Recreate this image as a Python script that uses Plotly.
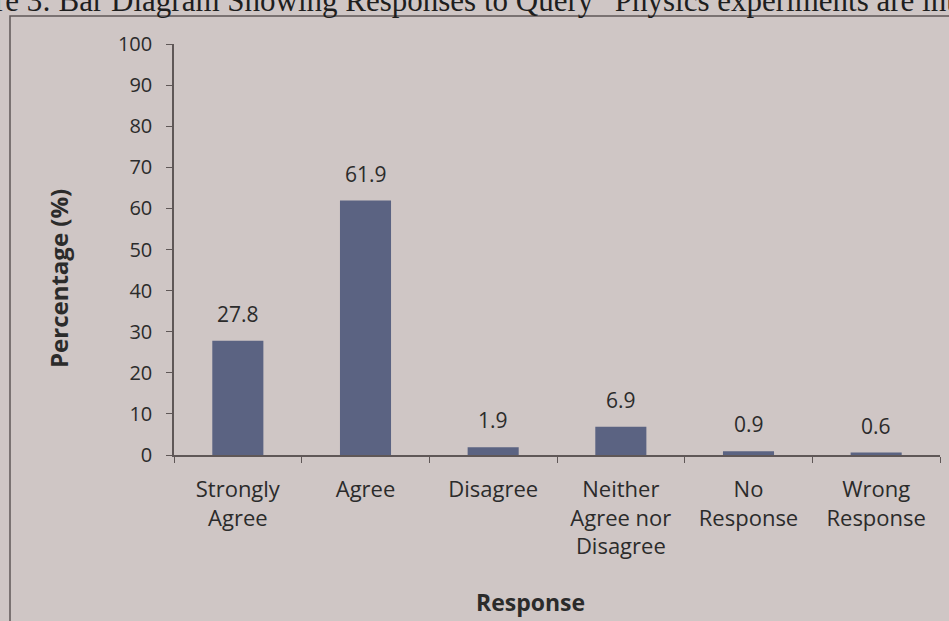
import plotly.graph_objects as go

# Survey responses and their share of respondents (%)
categories = ["Strongly Agree", "Agree", "Disagree",
              "Neither Agree nor Disagree", "No Response", "Wrong Response"]
tick_labels = ["Strongly<br>Agree", "Agree", "Disagree",
               "Neither<br>Agree nor<br>Disagree", "No<br>Response", "Wrong<br>Response"]
percentages = [27.8, 61.9, 1.9, 6.9, 0.9, 0.6]
y_ticks = [0, 10, 20, 30, 40, 50, 60, 70, 80, 90, 100]

W, H = 949, 621
L, R, T, B = 174, 9, 44, 166
PW, PH = W - L - R, H - T - B

def px_x(px):
    return (px - L) / PW

def px_y(py):
    return (H - B - py) / PH

PAPER = "#cfc6c5"
BAR = "#5b6382"
INK = "#2b2b2b"
LINE = "#5f5757"
SANS = "Open Sans, DejaVu Sans, sans-serif"
SERIF = "Liberation Serif, Times New Roman, serif"

fig = go.Figure()
fig.add_trace(go.Bar(
    x=categories, y=percentages, width=0.4,
    marker=dict(color=BAR, line=dict(width=0)),
    hoverinfo="skip",
))

annotations = []
# value labels above each bar
for cat, val in zip(categories, percentages):
    annotations.append(dict(
        x=cat, y=val, xref="x", yref="y", text=f"{val:.1f}",
        showarrow=False, yanchor="bottom", yshift=11,
        font=dict(family=SANS, size=21, color=INK),
    ))
# axis titles
annotations.append(dict(
    x=px_x(58), y=px_y(279), xref="paper", yref="paper",
    text="<b>Percentage (%)</b>", textangle=-90, showarrow=False,
    xanchor="center", yanchor="middle",
    font=dict(family=SANS, size=24, color=INK),
))
annotations.append(dict(
    x=px_x(530), y=px_y(602), xref="paper", yref="paper",
    text="<b>Response</b>", showarrow=False,
    xanchor="center", yanchor="middle",
    font=dict(family=SANS, size=23, color=INK),
))
# figure caption running along the top edge
annotations.append(dict(
    x=px_x(-64), y=px_y(20), xref="paper", yref="paper",
    text="Figure 3: Bar Diagram Showing Responses to Query \u201cPhysics experiments are interesting\u201d",
    showarrow=False, xanchor="left", yanchor="bottom",
    font=dict(family=SERIF, size=31, color="#1e1e1e"),
))

fig.update_layout(
    width=W, height=H,
    margin=dict(l=L, r=R, t=T, b=B, pad=0),
    paper_bgcolor=PAPER, plot_bgcolor=PAPER,
    showlegend=False, bargap=0.6,
    annotations=annotations,
    shapes=[dict(
        type="rect", xref="paper", yref="paper",
        x0=px_x(10), x1=px_x(1000), y0=px_y(700), y1=px_y(16),
        line=dict(color=LINE, width=1.5), fillcolor="rgba(0,0,0,0)", layer="below",
    )],
    xaxis=dict(
        tickmode="array", tickvals=categories, ticktext=tick_labels,
        tickson="boundaries", ticks="outside", ticklen=6, tickcolor=LINE,
        showline=True, linecolor=LINE, linewidth=1.5,
        showgrid=False, zeroline=False, ticklabelstandoff=14,
        tickfont=dict(family=SANS, size=22, color=INK),
    ),
    yaxis=dict(
        range=[0, 100], tickmode="array", tickvals=y_ticks,
        ticks="outside", ticklen=6, tickcolor=LINE,
        showline=True, linecolor=LINE, linewidth=1.5,
        showgrid=False, zeroline=False, ticklabelstandoff=10,
        tickfont=dict(family=SANS, size=20, color=INK),
    ),
)

fig.write_html("out.html")
